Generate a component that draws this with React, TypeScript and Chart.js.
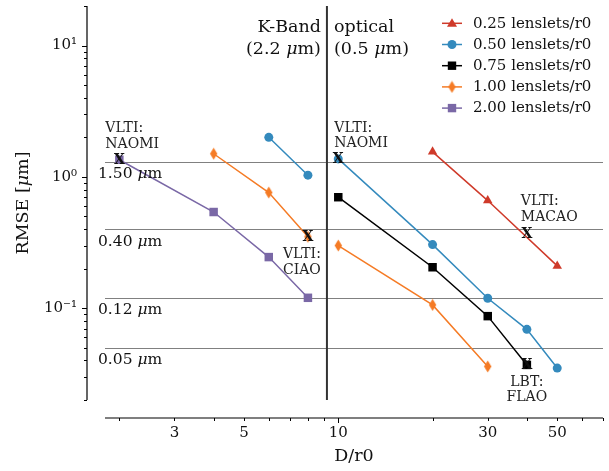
import React, { useEffect, useRef } from 'react';
import { Chart, registerables } from 'chart.js';
Chart.register(...registerables);

// ---------- data ----------
const seriesLabels = ['0.25 lenslets/r0', '0.50 lenslets/r0', '0.75 lenslets/r0', '1.00 lenslets/r0', '2.00 lenslets/r0'];
const seriesColors = ['#cf3a2a', '#348abd', '#000000', '#f57b25', '#7a68a6'];
const seriesMarkers = ['triangle', 'circle', 'rect', 'diamond', 'rect'];

// K-band segment (left of divider) and optical segment (right of divider)
const kX025: number[] = [];
const kY025: number[] = [];
const oX025 = [20, 30, 50];
const oY025 = [1.55, 0.66, 0.21];

const kX050 = [6, 8];
const kY050 = [2.0, 1.03];
const oX050 = [10, 20, 30, 40, 50];
const oY050 = [1.37, 0.305, 0.119, 0.069, 0.035];

const kX075: number[] = [];
const kY075: number[] = [];
const oX075 = [10, 20, 30, 40];
const oY075 = [0.70, 0.205, 0.087, 0.037];

const kX100 = [4, 6, 8];
const kY100 = [1.50, 0.76, 0.35];
const oX100 = [10, 20, 30];
const oY100 = [0.30, 0.106, 0.036];

const kX200 = [2, 4, 6, 8];
const kY200 = [1.35, 0.54, 0.245, 0.12];
const oX200: number[] = [];
const oY200: number[] = [];

const bandDivider = 9.2;
const refLevels = [1.3, 0.4, 0.12, 0.05];
const refLabels = ['1.50', '0.40', '0.12', '0.05'];

const systemLines = [['VLTI:', 'NAOMI'], ['VLTI:', 'NAOMI'], ['VLTI:', 'CIAO'], ['VLTI:', 'MACAO'], ['LBT:', 'FLAO']];
const systemX = [2, 10, 8, 40, 40];
const systemY = [1.35, 1.37, 0.35, 0.37, 0.037];

const xTickValues = [3, 5, 10, 30, 50];
const yTickValues = [0.1, 1, 10];
const xRange = [1.8, 70];
const yRange = [0.02, 20];

// ---------- styling (offsets for annotation text) ----------
const systemTextStyle: { dx: number; dy: number[]; align: CanvasTextAlign }[] = [
  { dx: -14, dy: [-31, -15], align: 'left' },
  { dx: -4, dy: [-31, -16], align: 'left' },
  { dx: -6, dy: [18, 34], align: 'center' },
  { dx: -6, dy: [-32, -16], align: 'left' },
  { dx: 0, dy: [17, 32], align: 'center' },
];

const SERIF = '"DejaVu Serif", serif';

function buildPoints(kx: number[], ky: number[], ox: number[], oy: number[]) {
  const pts: { x: number; y: number | null }[] = [];
  kx.forEach((v, i) => pts.push({ x: v, y: ky[i] }));
  if (kx.length && ox.length) pts.push({ x: bandDivider, y: null });
  ox.forEach((v, i) => pts.push({ x: v, y: oy[i] }));
  return pts;
}

function makeDiamond(color: string) {
  const c = document.createElement('canvas');
  c.width = 9;
  c.height = 13;
  const g = c.getContext('2d')!;
  g.fillStyle = color;
  g.beginPath();
  g.moveTo(4.5, 0.5);
  g.lineTo(8.2, 6.5);
  g.lineTo(4.5, 12.5);
  g.lineTo(0.8, 6.5);
  g.closePath();
  g.fill();
  return c;
}

function drawParts(ctx: CanvasRenderingContext2D, parts: [string, boolean][], x: number, y: number, align: 'left' | 'right' | 'center', size: number) {
  const fonts = parts.map(([, it]) => `${it ? 'italic ' : ''}${size}px ${SERIF}`);
  const widths = parts.map(([t], i) => { ctx.font = fonts[i]; return ctx.measureText(t).width; });
  const total = widths.reduce((a, b) => a + b, 0);
  let cx = align === 'left' ? x : align === 'right' ? x - total : x - total / 2;
  ctx.textAlign = 'left';
  parts.forEach(([t], i) => {
    ctx.font = fonts[i];
    ctx.fillText(t, cx, y);
    cx += widths[i];
  });
}

function drawMarker(ctx: CanvasRenderingContext2D, kind: string, x: number, y: number, color: string, diamond: HTMLCanvasElement) {
  ctx.fillStyle = color;
  ctx.beginPath();
  if (kind === 'circle') {
    ctx.arc(x, y, 4.5, 0, Math.PI * 2);
    ctx.fill();
  } else if (kind === 'rect') {
    ctx.fillRect(x - 4.2, y - 4.2, 8.4, 8.4);
  } else if (kind === 'triangle') {
    ctx.moveTo(x, y - 5);
    ctx.lineTo(x + 5, y + 3.5);
    ctx.lineTo(x - 5, y + 3.5);
    ctx.closePath();
    ctx.fill();
  } else {
    ctx.drawImage(diamond, x - diamond.width / 2, y - diamond.height / 2);
  }
}

export default function App() {
  const ref = useRef<HTMLCanvasElement>(null);
  useEffect(() => {
    const canvas = ref.current!;
    const diamonds = seriesColors.map(c => makeDiamond(c));
    const raw = [
      buildPoints(kX025, kY025, oX025, oY025),
      buildPoints(kX050, kY050, oX050, oY050),
      buildPoints(kX075, kY075, oX075, oY075),
      buildPoints(kX100, kY100, oX100, oY100),
      buildPoints(kX200, kY200, oX200, oY200),
    ];
    const datasets = raw.map((pts, i) => {
      const m = seriesMarkers[i];
      const color = seriesColors[i];
      return {
        label: seriesLabels[i],
        data: pts,
        borderColor: color,
        backgroundColor: color,
        borderWidth: 1.5,
        pointStyle: m === 'diamond' ? diamonds[i] : m,
        pointRadius: m === 'circle' ? 4.5 : m === 'rect' ? 6 : m === 'triangle' ? 5.5 : 5,
        pointBorderWidth: 0,
        pointBorderColor: color,
        pointBackgroundColor: color,
        fill: false,
        tension: 0,
        spanGaps: false,
      };
    });

    const overlay = {
      id: 'overlay',
      beforeDatasetsDraw(chart: any) {
        const { ctx, chartArea: a, scales } = chart;
        const x = scales.x, y = scales.y;
        ctx.save();
        ctx.strokeStyle = '#808080';
        ctx.lineWidth = 1;
        refLevels.forEach(v => {
          const py = Math.round(y.getPixelForValue(v)) + 0.5;
          ctx.beginPath();
          ctx.moveTo(a.left, py);
          ctx.lineTo(a.right, py);
          ctx.stroke();
        });
        const px = x.getPixelForValue(bandDivider);
        ctx.strokeStyle = '#333333';
        ctx.lineWidth = 2;
        ctx.beginPath();
        ctx.moveTo(px, a.top);
        ctx.lineTo(px, a.bottom);
        ctx.stroke();
        ctx.restore();
      },
      afterDatasetsDraw(chart: any) {
        const { ctx, scales } = chart;
        const x = scales.x, y = scales.y;
        ctx.save();
        ctx.fillStyle = '#111';
        ctx.textBaseline = 'middle';
        // reference level labels
        refLevels.forEach((v, i) => {
          const py = y.getPixelForValue(v);
          drawParts(ctx, [[refLabels[i] + ' ', false], ['\u03bc', true], ['m', false]], 98, py + 12.5, 'left', 15.5);
        });
        // band labels
        const dpx = x.getPixelForValue(bandDivider);
        drawParts(ctx, [['K-Band', false]], dpx - 6, 27, 'right', 17.5);
        drawParts(ctx, [['(2.2 ', false], ['\u03bc', true], ['m)', false]], dpx - 6, 49, 'right', 17.5);
        drawParts(ctx, [['optical', false]], dpx + 7, 27, 'left', 17.5);
        drawParts(ctx, [['(0.5 ', false], ['\u03bc', true], ['m)', false]], dpx + 7, 49, 'left', 17.5);
        // system markers + text
        systemX.forEach((sx, i) => {
          const px = x.getPixelForValue(sx);
          const py = y.getPixelForValue(systemY[i]);
          ctx.fillStyle = '#111';
          ctx.font = `bold 14px ${SERIF}`;
          ctx.textAlign = 'center';
          ctx.fillText('X', px, py + 0.5);
          const st = systemTextStyle[i];
          ctx.fillStyle = '#222';
          systemLines[i].forEach((t, j) => {
            drawParts(ctx, [[t, false]], px + st.dx, py + st.dy[j], st.align as any, 14);
          });
        });
        ctx.restore();
      },
      afterDraw(chart: any) {
        const { ctx, chartArea: a, scales } = chart;
        const x = scales.x, y = scales.y;
        ctx.save();
        ctx.strokeStyle = '#000';
        ctx.lineWidth = 1.2;
        const sx = 87, sy = a.bottom + 18;
        // spines
        ctx.beginPath();
        ctx.moveTo(sx, a.top);
        ctx.lineTo(sx, a.bottom);
        ctx.moveTo(a.left, sy);
        ctx.lineTo(a.right, sy);
        ctx.stroke();
        // y ticks
        ctx.lineWidth = 1;
        for (let e = -2; e <= 1; e++) {
          for (let m = 1; m <= 9; m++) {
            const v = m * Math.pow(10, e);
            if (v < yRange[0] - 1e-9 || v > yRange[1] + 1e-9) continue;
            const py = Math.round(y.getPixelForValue(v)) + 0.5;
            const len = m === 1 ? 5 : 3;
            ctx.beginPath();
            ctx.moveTo(sx - len, py);
            ctx.lineTo(sx, py);
            ctx.stroke();
          }
        }
        // x ticks
        for (let e = 0; e <= 1; e++) {
          for (let m = 1; m <= 9; m++) {
            const v = m * Math.pow(10, e);
            if (v < xRange[0] || v > xRange[1]) continue;
            const px = Math.round(x.getPixelForValue(v)) + 0.5;
            const len = m === 1 ? 5 : 3;
            ctx.beginPath();
            ctx.moveTo(px, sy);
            ctx.lineTo(px, sy + len);
            ctx.stroke();
          }
        }
        // axis titles
        ctx.fillStyle = '#111';
        ctx.textBaseline = 'middle';
        drawParts(ctx, [['D/r0', false]], (a.left + a.right) / 2, 456, 'center', 17.5);
        ctx.save();
        ctx.translate(23, (a.top + a.bottom) / 2);
        ctx.rotate(-Math.PI / 2);
        drawParts(ctx, [['RMSE [', false], ['\u03bc', true], ['m]', false]], 0, 0, 'center', 17.5);
        ctx.restore();
        // legend
        seriesLabels.forEach((lab, i) => {
          const ly = 23.3 + i * 21.2;
          ctx.strokeStyle = seriesColors[i];
          ctx.lineWidth = 1.5;
          ctx.beginPath();
          ctx.moveTo(442, ly);
          ctx.lineTo(462, ly);
          ctx.stroke();
          drawMarker(ctx, seriesMarkers[i], 452, ly, seriesColors[i], diamonds[i]);
          ctx.fillStyle = '#111';
          drawParts(ctx, [[lab, false]], 473, ly + 0.5, 'left', 15);
        });
        ctx.restore();
      },
    };

    const chart = new Chart(canvas, {
      type: 'line',
      data: { datasets: datasets as any },
      options: {
        animation: false,
        responsive: false,
        maintainAspectRatio: false,
        layout: { padding: { top: 3, right: 5, left: 0, bottom: 0 } },
        plugins: { legend: { display: false }, tooltip: { enabled: false } },
        scales: {
          x: {
            type: 'logarithmic',
            min: xRange[0],
            max: xRange[1],
            bounds: 'data',
            grid: { display: false, drawTicks: false },
            border: { display: false },
            afterBuildTicks: (s: any) => { s.ticks = xTickValues.map(v => ({ value: v })); },
            afterFit: (s: any) => { s.height = 71; s.paddingLeft = 0; s.paddingRight = 0; s.paddingTop = 0; s.paddingBottom = 0; },
            ticks: {
              autoSkip: false,
              maxRotation: 0,
              padding: 24,
              color: '#111',
              font: { family: SERIF, size: 15 },
              callback: (v: any) => String(v),
            },
          },
          y: {
            type: 'logarithmic',
            min: yRange[0],
            max: yRange[1],
            bounds: 'data',
            grid: { display: false, drawTicks: false },
            border: { display: false },
            afterBuildTicks: (s: any) => { s.ticks = yTickValues.map(v => ({ value: v })); },
            afterFit: (s: any) => { s.width = 105; s.paddingLeft = 0; s.paddingRight = 0; s.paddingTop = 0; s.paddingBottom = 0; },
            ticks: {
              autoSkip: false,
              padding: 28,
              color: '#111',
              font: { family: SERIF, size: 15 },
              callback: (v: any) => {
                const e = Math.round(Math.log10(Number(v)));
                const sup: Record<string, string> = { '-': '\u207b', '0': '\u2070', '1': '\u00b9', '2': '\u00b2' };
                return '10' + String(e).split('').map(c => sup[c]).join('');
              },
            },
          },
        },
      },
      plugins: [overlay],
    });
    return () => chart.destroy();
  }, []);
  return (
    <div style={{ position: 'absolute', left: 0, top: 0, width: 609, height: 471, background: '#fff' }}>
      <canvas ref={ref} width={609} height={471} style={{ display: 'block' }} />
    </div>
  );
}
